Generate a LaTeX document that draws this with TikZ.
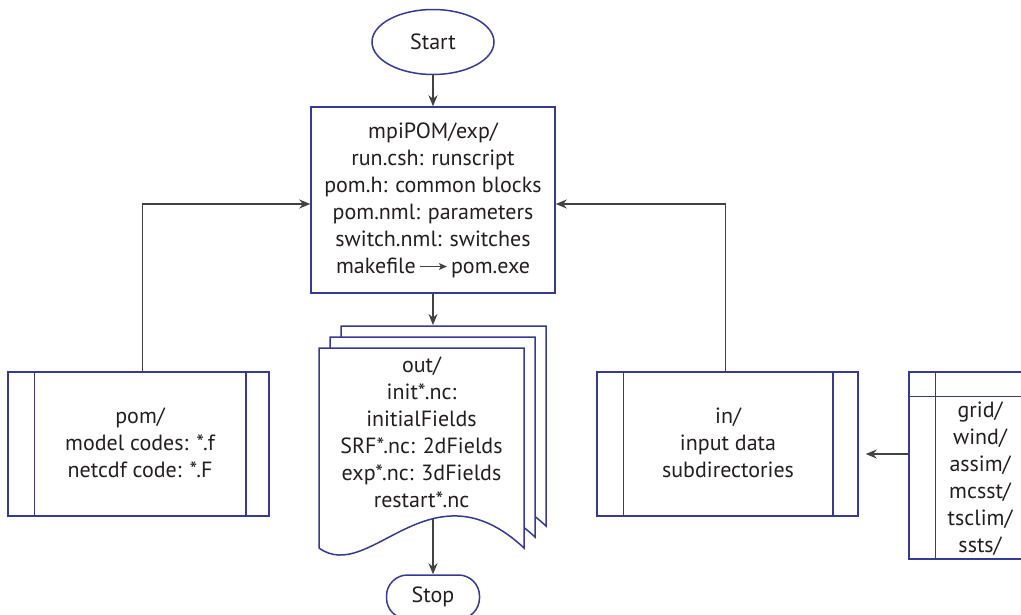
\documentclass[tikz,border=0pt]{standalone}
\usepackage{fontspec}
\setmainfont{PT Sans}
\usetikzlibrary{arrows.meta,shapes.geometric,calc}
\definecolor{boxblue}{RGB}{55,57,150}
\definecolor{ink}{RGB}{35,31,32}
\begin{document}
\begin{tikzpicture}[x=1pt,y=-1pt,
  every node/.style={font=\fontsize{22}{27}\selectfont, text=ink},
  box/.style={draw=boxblue, line width=1.5pt, fill=white},
  inner/.style={draw=boxblue, line width=1.5pt},
  page/.style={draw=boxblue, line width=1.5pt, fill=white},
  conn/.style={draw=ink!85, line width=1.1pt, -{Stealth[length=11pt,width=9pt,inset=3.5pt]}},
]
\clip (0,0) rectangle (1021,614);
\fill[white] (0,0) rectangle (1021,614);

% Start
\node[box, ellipse, minimum width=122pt, minimum height=65pt] (start) at (433,42) {Start};

% main box
\node[box, minimum width=244pt, minimum height=186pt, align=center, inner sep=0pt] (main) at (433,200)
  {mpiPOM/exp/\\run.csh: runscript\\pom.h: common blocks\\pom.nml: parameters\\switch.nml: switches\\
   makefile\,\tikz[baseline=-0.6ex]\draw[draw=ink!85,line width=1pt,-{Stealth[length=8pt,width=7pt,inset=2pt]}] (0,0) -- (27,0);\,pom.exe};

% document stack
\foreach \d in {22,11,0}{
  \begin{scope}[shift={(\d,-\d)}]
    \filldraw[page] (319,348) -- (524,348) -- (524,548) .. controls (430,460) and (370,585) .. (319,548) -- cycle;
  \end{scope}
}
\coordinate (doctop) at (433,325);
\coordinate (docbot) at (433,519);
\node[align=center] (doc) at (421.5,432)
  {out/\\init*.nc:\\initialFields\\SRF*.nc: 2dFields\\exp*.nc: 3dFields\\restart*.nc};

% Stop
\node[box, rectangle, rounded corners=21pt, minimum width=93pt, minimum height=44pt] (stop) at (433,597) {};
\node at (433,597) {Stop};

% pom box
\node[box, minimum width=261pt, minimum height=144pt] (pom) at (138.5,444) {};
\draw[inner] ([xshift=27pt]pom.north west) -- ([xshift=27pt]pom.south west);
\draw[inner] ([xshift=-24pt]pom.north east) -- ([xshift=-24pt]pom.south east);
\node[align=center] at (140,443) {pom/\\model codes: *.f\\netcdf code: *.F};

% in box
\node[box, minimum width=261pt, minimum height=144pt] (in) at (727.5,444) {};
\draw[inner] ([xshift=27pt]in.north west) -- ([xshift=27pt]in.south west);
\draw[inner] ([xshift=-26pt]in.north east) -- ([xshift=-26pt]in.south east);
\node[align=center] at (728,443) {in/\\input data\\subdirectories};

% data box
\node[box, minimum width=142pt, minimum height=187pt] (data) at (980,465.5) {};
\draw[inner] ([xshift=27pt]data.north west) -- ([xshift=27pt]data.south west);
\draw[inner] ([yshift=-25pt]data.north west) -- ([yshift=-25pt]data.north east);
\node[align=center] at (980,479) {grid/\\wind/\\assim/\\mcsst/\\tsclim/\\ssts/};

% connectors
\draw[conn] (start) -- (main);
\draw[conn] (main) -- (doctop);
\draw[conn] (docbot) -- (stop);
\draw[conn] ($(pom.north)+(4,0)$) |- ($(main.west)+(0,4)$);
\draw[conn] ($(in.north)+(-2,0)$) |- ($(main.east)+(0,4)$);
\draw[conn] ($(data.west)+(0,-11.5)$) -- ($(in.east)+(7,10)$);
\end{tikzpicture}
\end{document}
